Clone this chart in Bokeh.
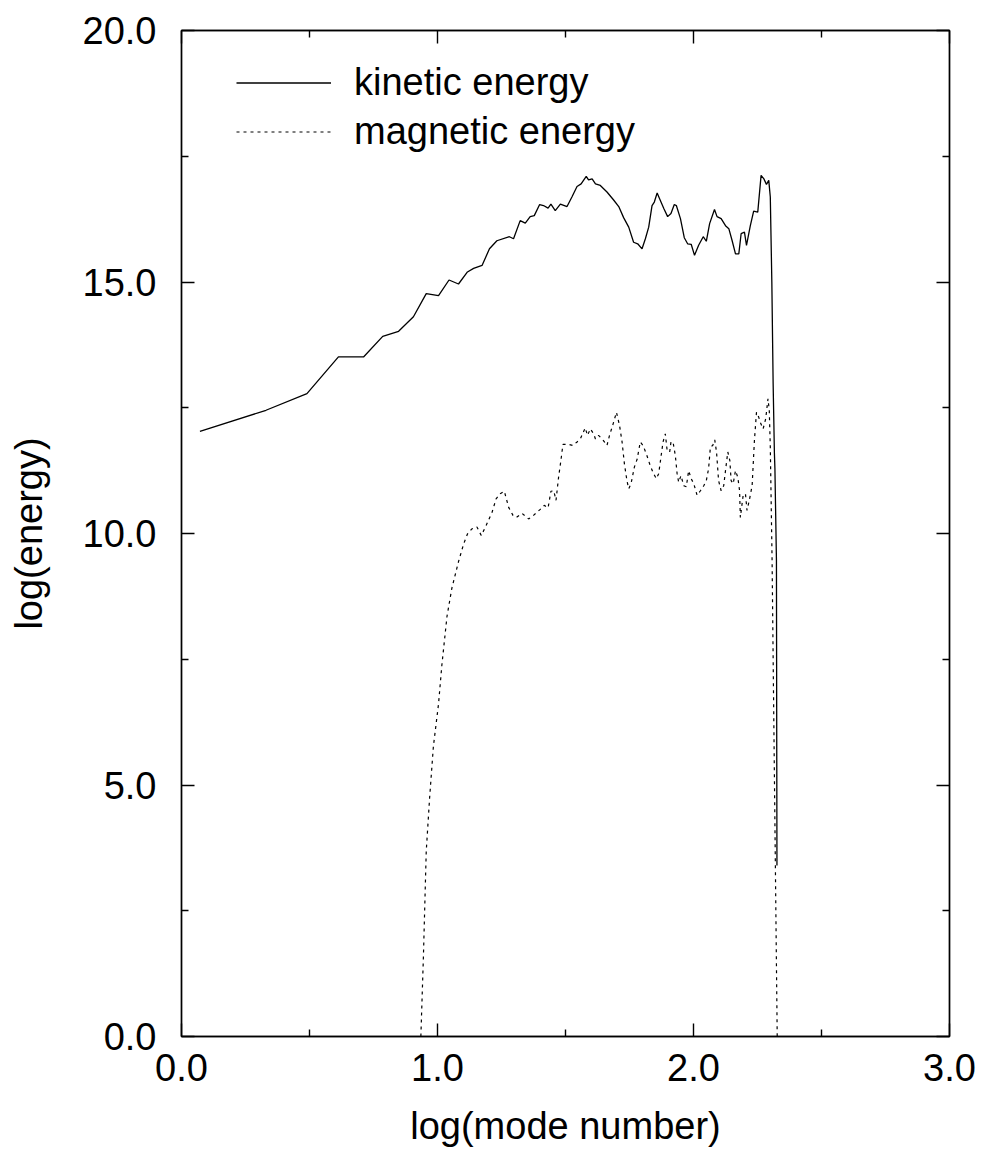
from bokeh.plotting import figure
from bokeh.models import (ColumnDataSource, CustomJSTickFormatter, FixedTicker,
                          LinearAxis, Legend, LegendItem, NumeralTickFormatter,
                          Range1d)
from bokeh.embed import file_html
from bokeh.resources import INLINE

# Energy spectra: log10 of mode number against log10 of energy
kinetic_logk = [0.072, 0.33, 0.49, 0.613, 0.711, 0.786, 0.848, 0.906, 0.956, 1.004,
                1.045, 1.082, 1.117, 1.141, 1.174, 1.203, 1.232, 1.281, 1.297, 1.323,
                1.343, 1.362, 1.378, 1.399, 1.414, 1.432, 1.443, 1.460, 1.480, 1.506,
                1.525, 1.545, 1.561, 1.581, 1.590, 1.604, 1.617, 1.636, 1.662, 1.688,
                1.708, 1.727, 1.747, 1.766, 1.782, 1.799, 1.812, 1.825, 1.838, 1.847,
                1.858, 1.868, 1.884, 1.899, 1.912, 1.925, 1.933, 1.949, 1.964, 1.977,
                1.991, 2.004, 2.020, 2.038, 2.050, 2.063, 2.082, 2.092, 2.108, 2.125,
                2.138, 2.151, 2.164, 2.177, 2.186, 2.199, 2.207, 2.222, 2.235, 2.251,
                2.264, 2.275, 2.285, 2.294, 2.300, 2.306, 2.311, 2.316, 2.318, 2.324,
                2.326]
kinetic_loge = [12.03, 12.45, 12.78, 13.51, 13.51, 13.92, 14.02, 14.31, 14.77, 14.73,
                15.04, 14.96, 15.20, 15.27, 15.33, 15.66, 15.82, 15.90, 15.86, 16.22,
                16.17, 16.30, 16.32, 16.54, 16.52, 16.47, 16.55, 16.42, 16.55, 16.50,
                16.69, 16.90, 16.95, 17.10, 17.03, 17.05, 16.95, 16.92, 16.79, 16.63,
                16.50, 16.28, 16.09, 15.79, 15.76, 15.66, 15.86, 16.09, 16.52, 16.59,
                16.77, 16.65, 16.46, 16.30, 16.36, 16.54, 16.52, 16.26, 15.88, 15.76,
                15.75, 15.53, 15.73, 15.90, 15.81, 16.16, 16.44, 16.30, 16.26, 16.12,
                16.06, 15.82, 15.56, 15.56, 15.96, 15.99, 15.73, 16.12, 16.41, 16.39,
                17.12, 17.05, 16.94, 17.02, 16.69, 15.00, 13.00, 11.60, 11.30, 9.46,
                3.40]

magnetic_logk = [0.935, 0.945, 0.956, 0.969, 0.984, 1.004, 1.017, 1.037, 1.056, 1.082,
                 1.102, 1.117, 1.134, 1.154, 1.171, 1.190, 1.213, 1.229, 1.245, 1.261,
                 1.278, 1.295, 1.308, 1.330, 1.356, 1.375, 1.399, 1.417, 1.432, 1.443,
                 1.454, 1.463, 1.473, 1.482, 1.490, 1.512, 1.529, 1.545, 1.558, 1.577,
                 1.586, 1.597, 1.610, 1.617, 1.629, 1.643, 1.652, 1.662, 1.672, 1.686,
                 1.699, 1.711, 1.721, 1.730, 1.740, 1.747, 1.756, 1.769, 1.780, 1.792,
                 1.803, 1.816, 1.831, 1.844, 1.855, 1.864, 1.871, 1.881, 1.890, 1.897,
                 1.907, 1.912, 1.920, 1.929, 1.936, 1.942, 1.951, 1.962, 1.972, 1.981,
                 1.991, 2.001, 2.014, 2.027, 2.040, 2.050, 2.059, 2.066, 2.075, 2.083,
                 2.090, 2.098, 2.108, 2.118, 2.125, 2.134, 2.142, 2.147, 2.155, 2.164,
                 2.173, 2.180, 2.183, 2.194, 2.203, 2.209, 2.218, 2.229, 2.238, 2.246,
                 2.255, 2.261, 2.272, 2.282, 2.291, 2.296, 2.300, 2.307, 2.327]
magnetic_loge = [0.00, 1.59, 3.68, 4.73, 5.77, 6.61, 7.38, 8.35, 8.91, 9.44,
                 9.79, 9.99, 10.09, 10.13, 9.96, 10.16, 10.42, 10.69, 10.79, 10.84,
                 10.52, 10.36, 10.32, 10.40, 10.29, 10.36, 10.47, 10.56, 10.51, 10.84,
                 10.85, 10.66, 11.12, 11.45, 11.77, 11.77, 11.75, 11.82, 11.88, 12.10,
                 11.95, 12.08, 11.98, 11.88, 11.95, 11.88, 11.82, 11.75, 11.95, 12.18,
                 12.41, 12.15, 11.82, 11.39, 11.05, 10.89, 10.99, 11.32, 11.48, 11.82,
                 11.75, 11.58, 11.35, 11.19, 11.09, 11.19, 11.45, 11.82, 11.98, 11.65,
                 11.62, 11.82, 11.82, 11.55, 11.19, 11.02, 11.15, 10.95, 10.93, 11.25,
                 11.09, 10.99, 10.76, 10.85, 10.95, 11.05, 11.29, 11.72, 11.75, 11.86,
                 11.62, 11.05, 10.85, 10.95, 11.25, 11.62, 11.45, 11.05, 10.99, 11.25,
                 11.12, 10.85, 10.32, 10.76, 10.79, 10.46, 10.66, 10.95, 11.85, 12.41,
                 12.31, 12.21, 12.08, 12.28, 12.68, 12.45, 11.72, 9.46, 0.00]

x_major = [0, 1, 2, 3]
x_minor = [0.5, 1.5, 2.5]
y_major = [0, 5, 10, 15, 20]
y_minor = [2.5, 7.5, 12.5, 17.5]

series_labels = ["kinetic energy", "magnetic energy"]

FONT = "Liberation Sans"
FS = "38px"

p = figure(width=982, height=1149, output_backend="svg", toolbar_location=None,
           x_range=Range1d(0, 3), y_range=Range1d(0, 20),
           min_border_left=181, min_border_right=33,
           min_border_top=30, min_border_bottom=113)
p.grid.visible = False
p.background_fill_color = "white"
p.border_fill_color = "white"
p.outline_line_color = "black"
p.outline_line_width = 1.4


def style_axis(ax, ticks, minor, show_labels):
    ax.ticker = FixedTicker(ticks=ticks, minor_ticks=minor)
    ax.axis_line_color = "black"
    ax.axis_line_width = 1.4
    ax.major_tick_in = 13
    ax.major_tick_out = 0
    ax.minor_tick_in = 7
    ax.minor_tick_out = 0
    ax.major_tick_line_color = "black"
    ax.minor_tick_line_color = "black"
    ax.major_tick_line_width = 1.4
    ax.minor_tick_line_width = 1.4
    if show_labels:
        ax.formatter = NumeralTickFormatter(format="0.0")
        ax.major_label_text_font = FONT
        ax.major_label_text_font_size = FS
        ax.major_label_text_color = "black"
        ax.axis_label_text_font = FONT
        ax.axis_label_text_font_size = FS
        ax.axis_label_text_font_style = "normal"
        ax.axis_label_text_color = "black"
    else:
        # mirrored frame side: tick marks only
        ax.formatter = CustomJSTickFormatter(code="return ''")
        ax.major_label_text_font_size = "1px"
        ax.major_label_standoff = 0


style_axis(p.xaxis[0], x_major, x_minor, True)
style_axis(p.yaxis[0], y_major, y_minor, True)
p.xaxis[0].axis_label = "log(mode number)"
p.yaxis[0].axis_label = "log(energy)"
p.xaxis[0].major_label_standoff = 17
p.xaxis[0].axis_label_standoff = 21
p.yaxis[0].major_label_standoff = 25
p.yaxis[0].axis_label_standoff = 30

top = LinearAxis()
style_axis(top, x_major, x_minor, False)
p.add_layout(top, "above")
right = LinearAxis()
style_axis(right, y_major, y_minor, False)
p.add_layout(right, "right")

ke = ColumnDataSource(dict(x=kinetic_logk, y=kinetic_loge))
me = ColumnDataSource(dict(x=magnetic_logk, y=magnetic_loge))
r_ke = p.line("x", "y", source=ke, line_color="black", line_width=1.3)
r_me = p.line("x", "y", source=me, line_color="black", line_width=1.2,
              line_dash="3 4")

legend = Legend(items=[LegendItem(label=series_labels[0], renderers=[r_ke]),
                       LegendItem(label=series_labels[1], renderers=[r_me])],
                location=(55, 880), orientation="vertical",
                glyph_width=95, glyph_height=49, label_height=49,
                label_standoff=23, spacing=0, padding=0, margin=0,
                border_line_alpha=0, background_fill_alpha=0,
                label_text_font=FONT, label_text_font_size=FS,
                label_text_color="black")
p.add_layout(legend, "center")

open("out.html", "w").write(file_html(p, INLINE))
